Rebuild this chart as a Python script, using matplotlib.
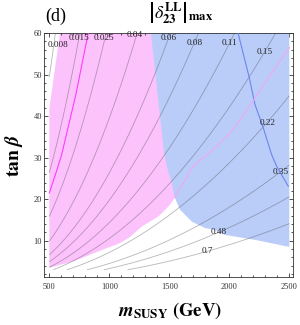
import numpy as np
import matplotlib
matplotlib.use('Agg')
import matplotlib.pyplot as plt
from matplotlib.ticker import MultipleLocator

# ---------------- data ----------------
# contour levels of |delta_23^LL|_max and their label positions (m_SUSY, tan beta)
levels = [0.008, 0.015, 0.025, 0.04, 0.06, 0.08, 0.11, 0.15, 0.22, 0.35, 0.48, 0.7]
level_labels = ['0.008', '0.015', '0.025', '0.04', '0.06', '0.08',
                '0.11', '0.15', '0.22', '0.35', '0.48', '0.7']
label_m = [572, 745, 952, 1214, 1498, 1714, 1998, 2298, 2323, 2431, 1914, 1814]
label_tb = [57.0, 58.8, 58.7, 59.4, 58.8, 57.5, 57.5, 55.4, 38.4, 26.5, 12.2, 7.6]

K_scale = 1.58e-6
m_range = [500, 2500]
tb_range = [3, 60]

# pink (allowed) region boundary
pink_m = [589, 1700, 1700, 1547, 1492, 1408, 1270, 1173, 1089, 978, 839, 700, 500, 500]
pink_tb = [60, 60, 22.0, 20.3, 18.2, 15.8, 13.4, 10.9, 9.4, 8.2, 6.6, 5.0, 3.5, 41.6]

# blue region boundary
blue_m = [1347, 1458, 1487, 1520, 1547, 1589, 1687, 1798, 1881, 1964, 2214, 2500, 2500]
blue_tb = [60, 30.7, 27.1, 23.9, 20.3, 17.5, 14.6, 13.05, 12.6, 11.4, 10.2, 8.5, 60]

# coloured boundary lines
magenta_m = [825, 720, 603, 550, 500]
magenta_tb = [60, 45.0, 30.7, 25.8, 21.5]
blueline_m = [2073, 2167, 2214, 2283, 2353, 2395, 2492]
blueline_tb = [60, 49.2, 42.8, 37.2, 30.7, 27.9, 23.1]
lilac_m = [2500, 2481, 2339, 2172, 2031, 1889, 1697, 1547]
lilac_tb = [56.5, 55.7, 49.7, 42.5, 36.7, 32.6, 27.8, 20.6]

x_ticks = [500, 1000, 1500, 2000, 2500]
y_ticks = [10, 20, 30, 40, 50, 60]

# ---------------- drawing ----------------
plt.rcParams['mathtext.fontset'] = 'stix'
plt.rcParams['font.family'] = ['Liberation Serif', 'DejaVu Serif']

fig = plt.figure(figsize=(3.0, 3.25), dpi=100)
ax = fig.add_axes([44 / 300, 48 / 325, 249 / 300, 244 / 325])

ax.fill(pink_m, pink_tb, color='#fcc2fc', lw=0, zorder=1)
ax.fill(blue_m, blue_tb, color='#b9cdf8', lw=0, zorder=2)

M, TB = np.meshgrid(np.linspace(*m_range, 400), np.linspace(*tb_range, 400))
delta = K_scale * M ** 2 / TB
ax.contour(M, TB, delta, levels=levels, colors='#4a4a4a', linewidths=0.6,
           alpha=0.4, zorder=3)

ax.plot(magenta_m, magenta_tb, color='#ff3cff', lw=0.8, zorder=4)
ax.plot(blueline_m, blueline_tb, color='#6d84f2', lw=0.8, zorder=4)
ax.plot(lilac_m, lilac_tb, color='#e6aef6', lw=1.0, zorder=4)

for txt, xm, yt in zip(level_labels, label_m, label_tb):
    ax.text(xm, yt, txt, fontsize=6.6, ha='center', va='center',
            color='#222222', zorder=5)

ax.set_xlim(456, 2531)
ax.set_ylim(1.26, 60)
ax.set_xticks(x_ticks)
ax.set_yticks(y_ticks)
ax.xaxis.set_minor_locator(MultipleLocator(100))
ax.yaxis.set_minor_locator(MultipleLocator(2))
ax.tick_params(which='both', direction='in', top=True, right=True,
               labelsize=6, colors='#333333', width=0.6)
ax.tick_params(which='major', length=3.0)
ax.tick_params(which='minor', length=1.6)
ax.tick_params(axis='x', pad=4.5)
ax.tick_params(axis='y', pad=1.5)
for s in ax.spines.values():
    s.set_linewidth(0.6)
    s.set_color('#333333')

fig.text(14 / 300, 1 - 155 / 325, r'$\mathbf{tan}\ \mathbfit{\beta}$',
         rotation=90, ha='center', va='center', fontsize=14)
fig.text(170 / 300, 1 - 311 / 325, r'$\mathbfit{m}_{\mathbf{SUSY}}\ \mathbf{(GeV)}$',
         ha='center', va='center', fontsize=13.5)
fig.text(45 / 300, 1 - 21 / 325, '(d)', ha='left', va='baseline', fontsize=13)
fig.text(181 / 300, 1 - 13 / 325,
         r'$\left|\delta_{\mathbf{23}}^{\mathbf{LL}}\right|_{\mathbf{max}}$',
         ha='center', va='center', fontsize=13)

fig.savefig('out.png', dpi=100)
